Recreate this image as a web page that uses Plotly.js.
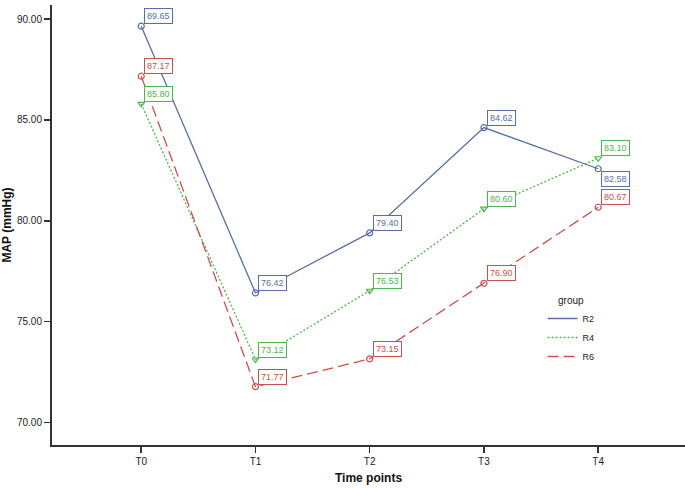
<!DOCTYPE html>
<html>
<head>
<meta charset="utf-8">
<script src="https://cdn.plot.ly/plotly-3.0.1.min.js"></script>
<style>html,body{margin:0;padding:0;background:#fff;}#chart{width:685px;height:488px;}</style>
</head>
<body>
<div id="chart"></div>
<script>
const timePoints = ["T0", "T1", "T2", "T3", "T4"];
const groupNames = ["R2", "R4", "R6"];
const r2Values = [89.65, 76.42, 79.40, 84.62, 82.58];
const r4Values = [85.80, 73.12, 76.53, 80.60, 83.10];
const r6Values = [87.17, 71.77, 73.15, 76.90, 80.67];
const yTickVals = [70, 75, 80, 85, 90];

const seriesValues = [r2Values, r4Values, r6Values];
const colors = ["#5a6ea3", "#4fb34f", "#c9504f"];
const dashes = ["solid", "2px,2px", "11px,5px"];
const symbols = ["circle-open", "triangle-down-open", "circle-open"];

const traces = [];
seriesValues.forEach((vals, i) => {
  traces.push({
    type: "scatter",
    mode: "lines+markers",
    name: groupNames[i],
    showlegend: false,
    x: timePoints,
    y: vals,
    line: {color: colors[i], width: 1.3, dash: dashes[i]},
    marker: {symbol: symbols[i], size: 6, color: colors[i], line: {color: colors[i], width: 1.2}},
    cliponaxis: false
  });
});
seriesValues.forEach((vals, i) => {
  traces.push({
    type: "scatter",
    mode: "lines",
    name: groupNames[i],
    showlegend: true,
    x: [null],
    y: [null],
    line: {color: colors[i], width: 1.3, dash: dashes[i]}
  });
});

const annotations = [];
seriesValues.forEach((vals, i) => {
  vals.forEach((v, j) => {
    const below = (i === 0 && j === 4);
    annotations.push({
      x: timePoints[j], y: v, xref: "x", yref: "y",
      text: v.toFixed(2),
      showarrow: false,
      xanchor: "left",
      yanchor: below ? "top" : "bottom",
      xshift: 3,
      yshift: below ? -2 : 2,
      font: {family: "Liberation Sans, Arial, sans-serif", size: 9, color: colors[i]},
      bordercolor: colors[i],
      borderwidth: 1,
      borderpad: 2,
      bgcolor: "#ffffff"
    });
  });
});

const layout = {
  width: 685, height: 488,
  margin: {l: 52, r: 0, t: 5, b: 43},
  paper_bgcolor: "#ffffff",
  plot_bgcolor: "#ffffff",
  font: {family: "Liberation Sans, Arial, sans-serif", size: 10, color: "#222"},
  showlegend: true,
  legend: {
    x: 0.775, y: 0.35, xanchor: "left", yanchor: "top",
    bgcolor: "rgba(0,0,0,0)",
    font: {size: 9, color: "#222"},
    title: {text: "group", side: "top center", font: {size: 10, color: "#222"}},
    itemwidth: 30,
    tracegroupgap: 0
  },
  xaxis: {
    type: "category",
    range: [-0.781, 4.76],
    showgrid: false, zeroline: false,
    showline: true, linecolor: "#333", linewidth: 2,
    ticks: "outside", ticklen: 6, tickcolor: "#333", tickwidth: 1.5,
    tickfont: {size: 10, color: "#222"},
    title: {text: "Time points", font: {size: 12, color: "#111", weight: "bold"}, standoff: 8}
  },
  yaxis: {
    range: [68.88, 90.7],
    tickvals: yTickVals,
    ticktext: yTickVals.map(v => v.toFixed(2)),
    showgrid: false, zeroline: false,
    showline: true, linecolor: "#333", linewidth: 2,
    ticks: "outside", ticklen: 6, tickcolor: "#333", tickwidth: 1.5,
    tickfont: {size: 10, color: "#222"},
    title: {text: "MAP (mmHg)", font: {size: 12, color: "#111", weight: "bold"}, standoff: 6}
  },
  annotations: annotations
};

Plotly.newPlot("chart", traces, layout, {displayModeBar: false, staticPlot: true});
</script>
</body>
</html>
